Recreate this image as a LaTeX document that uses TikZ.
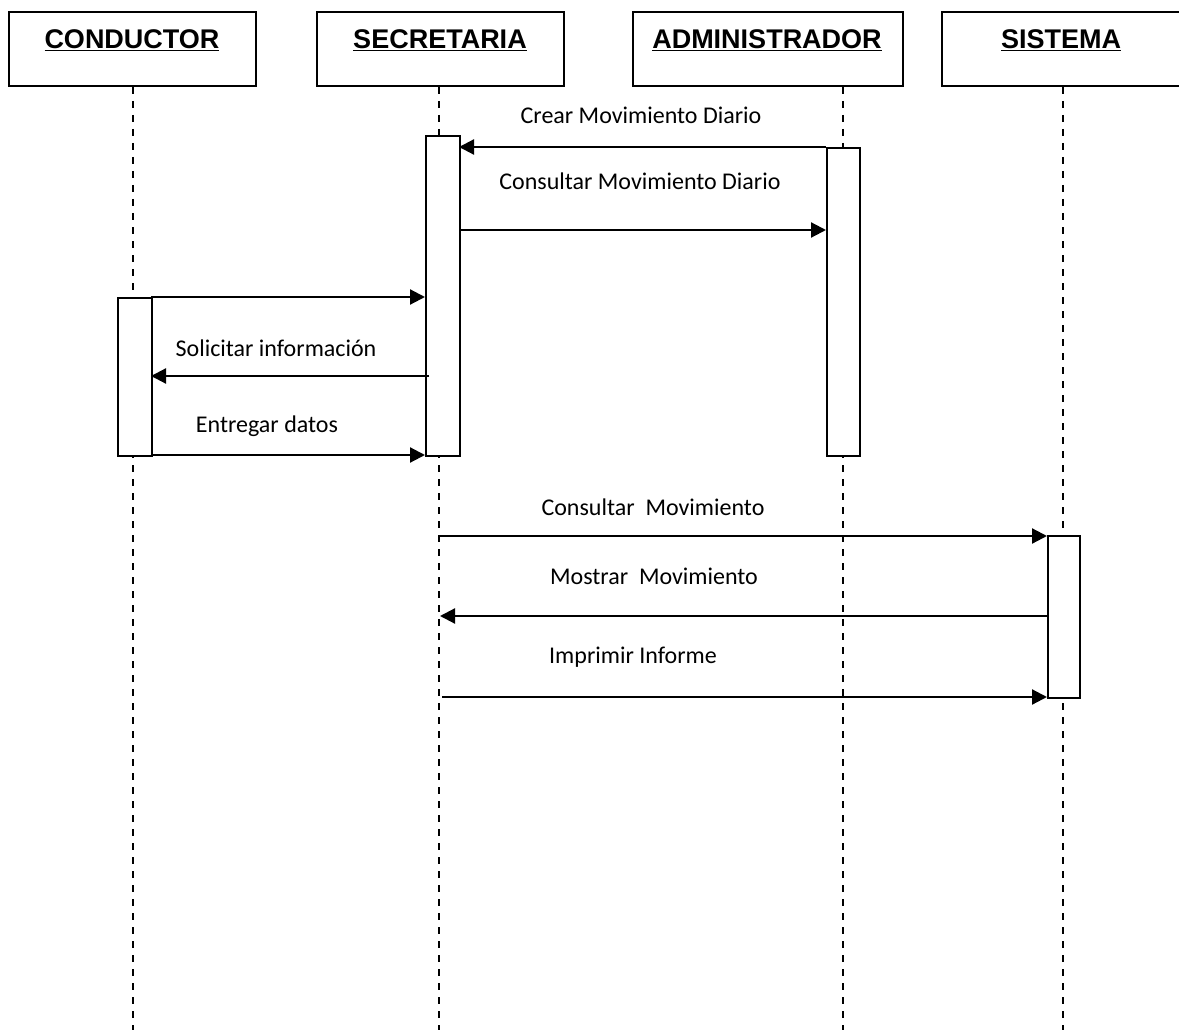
\documentclass[tikz,border=0pt]{standalone}
\usepackage{fontspec}
\setmainfont{Carlito}
\newfontfamily\headfont{Liberation Sans}
\usetikzlibrary{arrows.meta}
\tikzset{
  header/.style={draw, line width=2pt, minimum height=74pt, inner sep=0pt, anchor=north west},
  htext/.style={font=\headfont\bfseries\fontsize{27}{30}\selectfont, anchor=center},
  life/.style={line width=2pt, dash pattern=on 7pt off 7pt},
  act/.style={draw, fill=white, line width=1.8pt, inner sep=0pt, anchor=north west},
  msg/.style={line width=2.2pt, -{Triangle[length=15pt,width=15pt]}},
  lbl/.style={font=\fontsize{24}{28}\selectfont, anchor=center},
}
\begin{document}
\begin{tikzpicture}[x=1pt,y=-1pt]
\useasboundingbox (0,0) rectangle (1179,1030);
% headers
\node[header, minimum width=247pt] (hC) at (8,11) {};
\node[header, minimum width=247pt] (hS) at (316,11) {};
\node[header, minimum width=270pt] (hA) at (632,11) {};
\node[header, minimum width=238pt] (hY) at (941,11) {};
\node[htext] (tC) at (132,40) {\underline{CONDUCTOR}};
\node[htext] (tS) at (440,40) {\underline{SECRETARIA}};
\node[htext] (tA) at (767,40) {\underline{ADMINISTRADOR}};
\node[htext] (tY) at (1061,40) {\underline{SISTEMA}};
% lifeline ends
\coordinate (lC0) at (133,87); \coordinate (lC1) at (133,1030);
\coordinate (lS0) at (439,87); \coordinate (lS1) at (439,1030);
\coordinate (lA0) at (843,87); \coordinate (lA1) at (843,1030);
\coordinate (lY0) at (1063,87); \coordinate (lY1) at (1063,1030);
\draw[life] (lC0) -- (lC1);
\draw[life] (lS0) -- (lS1);
\draw[life] (lA0) -- (lA1);
\draw[life] (lY0) -- (lY1);
% activations
\node[act, minimum width=34pt, minimum height=320pt] (aS) at (425,135) {};
\node[act, minimum width=33pt, minimum height=308pt] (aA) at (826,147) {};
\node[act, minimum width=34pt, minimum height=158pt] (aC) at (117,297) {};
\node[act, minimum width=32pt, minimum height=162pt] (aY) at (1047,535) {};
% message end points
\coordinate (m1a) at (826,147); \coordinate (m1b) at (459,147);
\coordinate (m2a) at (461,230); \coordinate (m2b) at (826,230);
\coordinate (m3a) at (151,297); \coordinate (m3b) at (425,297);
\coordinate (m4a) at (429,376); \coordinate (m4b) at (151,376);
\coordinate (m5a) at (151,455); \coordinate (m5b) at (425,455);
\coordinate (m6a) at (439,536); \coordinate (m6b) at (1047,536);
\coordinate (m7a) at (1047,616); \coordinate (m7b) at (440,616);
\coordinate (m8a) at (442,697); \coordinate (m8b) at (1047,697);
\draw[msg] (m1a) -- (m1b);
\draw[msg] (m2a) -- (m2b);
\draw[msg] (m3a) -- (m3b);
\draw[msg] (m4a) -- (m4b);
\draw[msg] (m5a) -- (m5b);
\draw[msg] (m6a) -- (m6b);
\draw[msg] (m7a) -- (m7b);
\draw[msg] (m8a) -- (m8b);
% labels
\node[lbl] (l1) at (641,115) {Crear Movimiento Diario};
\node[lbl] (l2) at (640,181) {Consultar Movimiento Diario};
\node[lbl] (l4) at (276,348) {Solicitar información};
\node[lbl] (l5) at (267,426) {Entregar datos};
\node[lbl] (l6) at (653,507) {Consultar\ \ Movimiento};
\node[lbl] (l7) at (654,576) {Mostrar\ \ Movimiento};
\node[lbl] (l8) at (633,657) {Imprimir Informe};
\end{tikzpicture}
\end{document}
